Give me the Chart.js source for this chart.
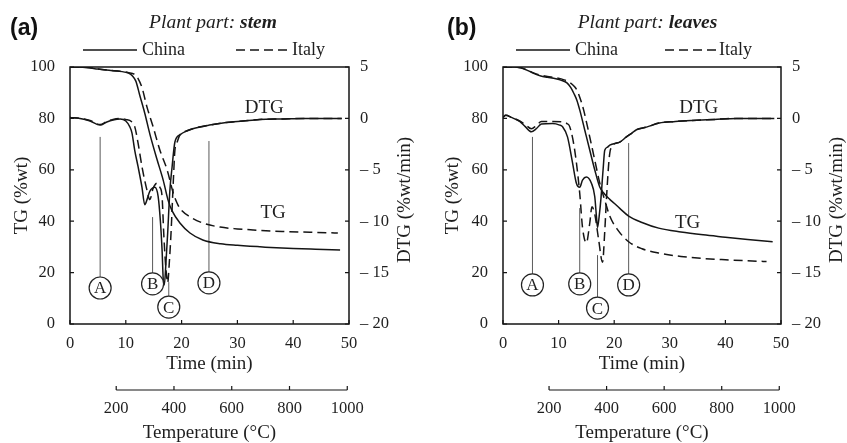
<!DOCTYPE html>
<html><head><meta charset="utf-8">
<script src="https://cdn.jsdelivr.net/npm/chart.js@4.4.1/dist/chart.umd.min.js"></script>
<style>
html,body{margin:0;padding:0;background:#fff;}
#wrap{position:relative;width:847px;height:443px;overflow:hidden;}
#ca{position:absolute;left:0;top:0;width:424px;height:443px;}
#cb{position:absolute;left:424px;top:0;width:423px;height:443px;}
</style></head><body>
<div id="wrap"><canvas id="ca" width="424" height="443"></canvas><canvas id="cb" width="423" height="443"></canvas></div>
<script>
// ---------- tick labels / categories ----------
const timeTicks = [0, 10, 20, 30, 40, 50];
const tgTicks = [0, 20, 40, 60, 80, 100];
const dtgTicks = [5, 0, -5, -10, -15, -20];
const tempTicks = [200, 400, 600, 800, 1000];
const seriesNames = ['China', 'Italy'];
const markerLabels = ['A', 'B', 'C', 'D'];

// ---------- panel (a) stem ----------
const stemChinaTG_t = [0,3,5,7,9,10.5,11.2,11.8,12.5,13.4,14.3,15.6,16.7,17.6,18.3,19.7,21.5,23.8,27,30,35,40,44,48.4];
const stemChinaTG   = [100,99.8,99.2,98.7,98.3,97.6,96.5,94.5,89,82,74,64,56,48,44,39.3,35.4,32.7,31.2,30.6,29.9,29.4,29.1,28.8];
const stemItalyTG_t = [0,3,5,7,9,10.5,11.5,12.2,12.9,13.8,14.9,16.1,17.4,18.5,19.2,19.7,21.5,23.8,26.9,30,32.8,38,43,48];
const stemItalyTG   = [100,99.8,99.2,98.7,98.3,97.8,97.2,95.5,92,84.4,76.7,67.7,60,51,47,45,41.7,39.3,37.7,37,36.6,36,35.7,35.4];
const stemChinaDTG_t = [0,1.8,3.6,5.4,6.6,7.7,9,10,10.7,11.1,11.6,12.2,12.9,13.4,13.8,14.3,15.2,15.8,16.2,16.5,16.75,16.9,17.2,17.5,17.9,18.3,18.8,19.7,21,22,25,28,31,34,38,42,45,48.7];
const stemChinaDTG   = [0.1,0,-0.25,-0.65,-0.35,-0.15,-0.05,-0.25,-0.8,-1.4,-3.1,-4.7,-6.7,-8.4,-7.9,-7.1,-6.7,-7.6,-10,-12.8,-16,-16.2,-14,-11.2,-7,-4.7,-2.3,-1.6,-1.2,-1.0,-0.65,-0.4,-0.25,-0.1,-0.05,0,0,0];
const stemItalyDTG_t = [0,1.8,3.6,5.4,6.6,7.7,9,10,11,11.6,12.2,12.9,13.8,14.3,14.9,15.6,16.1,16.5,16.8,17.1,17.35,17.5,17.8,18.1,18.5,18.8,19.2,19.7,21,22,25,28,31,34,38,42,45,48.7];
const stemItalyDTG   = [0.1,0,-0.2,-0.6,-0.3,-0.1,0,-0.1,-0.3,-0.8,-2.4,-4.7,-7.0,-7.9,-6.8,-6.3,-6.7,-7.6,-11.2,-14,-15.5,-16.0,-14,-11.2,-6.3,-3.1,-2.3,-1.6,-1.2,-1.0,-0.65,-0.4,-0.25,-0.1,-0.05,0,0,0];
const stemMarkerT      = [5.4, 14.8, 17.7, 24.9];
const stemMarkerTop    = [72.8, 41.6, 16.3, 71.2];
const stemMarkerCircle = [14, 15.6, 6.6, 16];

// ---------- panel (b) leaves ----------
const leafChinaTG_t = [0,2,3.2,4.5,5.5,6.8,8,9.5,10.5,11.5,12.2,12.8,13.3,13.8,14.7,15.6,16.5,17.4,18.3,19.2,20,21,22.6,25,28,32,36,40,44,48.5];
const leafChinaTG   = [100,100,99.7,98.6,97.5,96.5,96,95.4,94.8,93.8,92,89.5,87,83.3,75.5,67.7,60,53.3,50.5,48.5,47,45,42,39.5,37.3,35.8,34.7,33.8,32.9,32];
const leafItalyTG_t = [0,2,3.2,4.5,5.5,6.8,8,9.5,11,12,12.8,13.3,14,14.5,15.6,16.5,17.4,18.3,19.2,20.5,22.6,25,28,32,36,40,44,47.4];
const leafItalyTG   = [100,100,99.7,98.7,97.7,96.8,96.3,95.8,95,94,92.5,91,87,83.3,72.8,63.8,54.9,48.2,42,37,32,29.3,27.6,26.3,25.5,25,24.6,24.3];
const leafChinaDTG_t = [0,0.5,1.5,3,4,5.1,6,6.9,8.9,10.2,10.7,11.6,12.5,13.2,13.8,14.3,15.0,15.9,16.5,16.8,17.0,17.3,17.6,18.0,18.3,18.8,19.2,21,22.2,23,24,25.8,28.1,31,34,38,42,45,48.8];
const leafChinaDTG   = [0.1,0.3,0.1,-0.3,-0.8,-1.3,-1.0,-0.55,-0.5,-0.65,-0.8,-1.8,-4.3,-6.3,-6.7,-6.0,-5.7,-6.3,-7.6,-9.5,-10.6,-9.5,-7.9,-5,-3.1,-2.8,-2.6,-2.3,-1.8,-1.5,-1.1,-0.85,-0.45,-0.3,-0.2,-0.1,0,0,0];
const leafItalyDTG_t = [0,0.5,1.5,3,4,5.1,6,6.9,8.9,10.7,11.5,12,12.9,13.8,14.3,15.0,15.6,16.0,16.5,17.2,17.9,18.3,18.6,19.0,19.2,19.6,21,22.2,23,24,25.8,28.1,31,34,38,42,45,48.8];
const leafItalyDTG   = [0.1,0.3,0.1,-0.25,-0.6,-1.0,-0.7,-0.3,-0.3,-0.35,-0.5,-0.8,-3.1,-7.3,-10.6,-12.1,-10.2,-8.6,-9.3,-11.8,-14.0,-11,-7.9,-4.5,-3.4,-2.7,-2.3,-1.8,-1.5,-1.1,-0.85,-0.45,-0.3,-0.2,-0.1,0,0,0];
const leafMarkerT      = [5.3, 13.8, 17.0, 22.6];
const leafMarkerTop    = [72.8, 45.1, 26.8, 70.4];
const leafMarkerCircle = [15.2, 15.6, 6.2, 15.2];

// ---------- styling ----------
const SERIF = "'Liberation Serif','Times New Roman',serif";
const SANS = "'Liberation Sans',Arial,sans-serif";
const TXT = '#1e1e1e';
const LINE = '#151515';
const DASH = [9, 5];

function pts(t, v) { return t.map((x, i) => ({x: x, y: v[i]})); }

const decor = {
  id: 'decor',
  beforeDatasetsDraw(chart) {
    const P = chart.options.plugins.decor;
    const {ctx, scales} = chart;
    ctx.save();
    ctx.strokeStyle = '#5a5a5a';
    ctx.lineWidth = 1;
    P.markerT.forEach((t, i) => {
      const px = scales.x.getPixelForValue(t);
      const y0 = scales.y.getPixelForValue(P.markerTop[i]);
      const yc = scales.y.getPixelForValue(P.markerCircle[i]);
      ctx.beginPath(); ctx.moveTo(px, y0); ctx.lineTo(px, yc - 11); ctx.stroke();
    });
    ctx.restore();
  },
  afterDraw(chart) {
    const P = chart.options.plugins.decor;
    const {ctx, chartArea: ca, scales} = chart;
    ctx.save();
    // markers circles
    P.markerT.forEach((t, i) => {
      const px = scales.x.getPixelForValue(t);
      const yc = scales.y.getPixelForValue(P.markerCircle[i]);
      ctx.beginPath(); ctx.arc(px, yc, 11, 0, Math.PI * 2);
      ctx.fillStyle = '#fff'; ctx.fill();
      ctx.strokeStyle = '#222'; ctx.lineWidth = 1.2; ctx.stroke();
      ctx.fillStyle = TXT; ctx.font = '17px ' + SERIF;
      ctx.textAlign = 'center'; ctx.textBaseline = 'middle';
      ctx.fillText(markerLabels[i], px, yc + 1);
    });
    // curve labels
    ctx.font = '19px ' + SERIF; ctx.fillStyle = TXT; ctx.textAlign = 'center'; ctx.textBaseline = 'middle';
    ctx.fillText('DTG', scales.x.getPixelForValue(P.dtgLabel[0]), scales.y.getPixelForValue(P.dtgLabel[1]));
    ctx.fillText('TG', scales.x.getPixelForValue(P.tgLabel[0]), scales.y.getPixelForValue(P.tgLabel[1]));
    // frame
    ctx.strokeStyle = LINE; ctx.lineWidth = 1.5;
    ctx.strokeRect(ca.left, ca.top, ca.right - ca.left, ca.bottom - ca.top);
    // inward ticks
    ctx.lineWidth = 1.2;
    ctx.beginPath();
    scales.x.ticks.forEach(tk => { const p = scales.x.getPixelForValue(tk.value); ctx.moveTo(p, ca.bottom); ctx.lineTo(p, ca.bottom - 4); });
    scales.y.ticks.forEach(tk => { const p = scales.y.getPixelForValue(tk.value); ctx.moveTo(ca.left, p); ctx.lineTo(ca.left + 4, p); });
    scales.y2.ticks.forEach(tk => { const p = scales.y2.getPixelForValue(tk.value); ctx.moveTo(ca.right, p); ctx.lineTo(ca.right - 4, p); });
    ctx.stroke();
    // temperature axis line
    const ts = scales.temp;
    const ly = ts.top + 16;
    ctx.beginPath();
    ctx.moveTo(ts.getPixelForValue(tempTicks[0]), ly);
    ctx.lineTo(ts.getPixelForValue(tempTicks[tempTicks.length - 1]), ly);
    ts.ticks.forEach(tk => { const p = ts.getPixelForValue(tk.value); ctx.moveTo(p, ly); ctx.lineTo(p, ly - 4); });
    ctx.stroke();
    // right axis title (reads bottom-to-top)
    ctx.save();
    ctx.translate(ca.right + 56, 200);
    ctx.rotate(-Math.PI / 2);
    ctx.font = '19px ' + SERIF; ctx.fillStyle = TXT; ctx.textAlign = 'center'; ctx.textBaseline = 'middle';
    ctx.fillText('DTG (%wt/min)', 0, 0);
    ctx.restore();
    // panel letter
    ctx.font = 'bold 23px ' + SANS; ctx.fillStyle = '#111'; ctx.textAlign = 'left'; ctx.textBaseline = 'middle';
    ctx.fillText(P.letter, P.letterX, 29);
    // title with mixed fonts
    ctx.font = 'italic 19.5px ' + SERIF;
    const w1 = ctx.measureText(P.titleA).width;
    ctx.font = 'italic bold 19.5px ' + SERIF;
    const w2 = ctx.measureText(P.titleB).width;
    let tx = P.titleX - (w1 + w2) / 2;
    ctx.fillStyle = TXT; ctx.textBaseline = 'middle';
    ctx.font = 'italic 19.5px ' + SERIF; ctx.fillText(P.titleA, tx, 23);
    ctx.font = 'italic bold 19.5px ' + SERIF; ctx.fillText(P.titleB, tx + w1, 23);
    // legend
    ctx.font = '18px ' + SERIF; ctx.lineWidth = 1.3; ctx.strokeStyle = LINE;
    P.legend.forEach((lg, i) => {
      ctx.setLineDash(i === 0 ? [] : DASH);
      ctx.beginPath(); ctx.moveTo(lg[0], 50); ctx.lineTo(lg[0] + 54, 50); ctx.stroke();
      ctx.setLineDash([]);
      ctx.fillText(seriesNames[i], lg[0] + 54 + lg[1], 50);
    });
    ctx.restore();
  }
};

function makeChart(id, cfg) {
  const ds = (label, data, axis, dashed) => ({
    label: label, data: data, yAxisID: axis, borderColor: LINE, borderWidth: 1.5,
    borderDash: dashed ? DASH : [], pointRadius: 0, fill: false, cubicInterpolationMode: 'monotone'
  });
  return new Chart(document.getElementById(id), {
    type: 'line',
    data: {
      datasets: [
        ds(seriesNames[0] + ' TG', cfg.chinaTG, 'y', false),
        ds(seriesNames[1] + ' TG', cfg.italyTG, 'y', true),
        ds(seriesNames[0] + ' DTG', cfg.chinaDTG, 'y2', false),
        ds(seriesNames[1] + ' DTG', cfg.italyDTG, 'y2', true)
      ]
    },
    options: {
      responsive: false, animation: false, devicePixelRatio: 1,
      layout: {padding: {top: 67, left: 0, right: 0, bottom: 0}},
      plugins: {
        legend: {display: false}, tooltip: {enabled: false}, title: {display: false},
        decor: cfg.decor
      },
      scales: {
        x: {
          type: 'linear', position: 'bottom', min: 0, max: 50, weight: 0,
          afterBuildTicks: s => { s.ticks = timeTicks.map(v => ({value: v})); },
          afterFit: s => { s.height = 50; },
          grid: {display: false}, border: {display: false},
          ticks: {font: {family: SERIF, size: 16.5}, color: TXT, padding: 2, maxRotation: 0, autoSkip: false,
                  callback: v => String(v)},
          title: {display: true, text: 'Time (min)', font: {family: SERIF, size: 19, lineHeight: 1}, color: TXT, padding: {top: 0, bottom: 0}}
        },
        temp: {
          type: 'linear', axis: 'x', position: 'bottom', min: 40, max: 1006, weight: 1,
          afterBuildTicks: s => { s.ticks = tempTicks.map(v => ({value: v})); },
          afterFit: s => { s.height = 69; },
          grid: {display: false}, border: {display: false},
          ticks: {font: {family: SERIF, size: 16.5}, color: TXT, padding: 17, maxRotation: 0, autoSkip: false,
                  callback: v => String(v)},
          title: {display: true, text: 'Temperature (°C)', font: {family: SERIF, size: 19, lineHeight: 1}, color: TXT, padding: {top: 0, bottom: 0.5}}
        },
        y: {
          type: 'linear', position: 'left', min: 0, max: 100,
          afterBuildTicks: s => { s.ticks = tgTicks.map(v => ({value: v})); },
          afterFit: s => { s.width = cfg.leftW; },
          grid: {display: false}, border: {display: false},
          ticks: {font: {family: SERIF, size: 16.5}, color: TXT, padding: 7, callback: v => String(v)},
          title: {display: true, text: 'TG (%wt)', font: {family: SERIF, size: 19, lineHeight: 1}, color: TXT, padding: {top: cfg.leftTitlePad, bottom: 0}}
        },
        y2: {
          type: 'linear', position: 'right', min: -20, max: 5,
          afterBuildTicks: s => { s.ticks = dtgTicks.map(v => ({value: v})); },
          afterFit: s => { s.width = cfg.rightW; },
          grid: {display: false}, border: {display: false},
          ticks: {font: {family: SERIF, size: 16.5}, color: TXT, padding: 3,
                  callback: v => v < 0 ? '\u2013 ' + Math.abs(v) : String(v)},
          title: {display: false}
        }
      }
    },
    plugins: [decor]
  });
}

makeChart('ca', {
  chinaTG: pts(stemChinaTG_t, stemChinaTG), italyTG: pts(stemItalyTG_t, stemItalyTG),
  chinaDTG: pts(stemChinaDTG_t, stemChinaDTG), italyDTG: pts(stemItalyDTG_t, stemItalyDTG),
  leftW: 70, rightW: 75, leftTitlePad: 12.5,
  decor: {
    markerT: stemMarkerT, markerTop: stemMarkerTop, markerCircle: stemMarkerCircle,
    dtgLabel: [34.8, 84], tgLabel: [36.4, 43.2],
    letter: '(a)', letterX: 10, titleA: 'Plant part: ', titleB: 'stem', titleX: 213,
    legend: [[83, 5], [236, 2]]
  }
});
makeChart('cb', {
  chinaTG: pts(leafChinaTG_t, leafChinaTG), italyTG: pts(leafItalyTG_t, leafItalyTG),
  chinaDTG: pts(leafChinaDTG_t, leafChinaDTG), italyDTG: pts(leafItalyDTG_t, leafItalyDTG),
  leftW: 79, rightW: 66, leftTitlePad: 19.5,
  decor: {
    markerT: leafMarkerT, markerTop: leafMarkerTop, markerCircle: leafMarkerCircle,
    dtgLabel: [35.2, 84], tgLabel: [33.2, 39.3],
    letter: '(b)', letterX: 23, titleA: 'Plant part: ', titleB: 'leaves', titleX: 223.5,
    legend: [[92, 5], [241, 0]]
  }
});
</script>
</body></html>
